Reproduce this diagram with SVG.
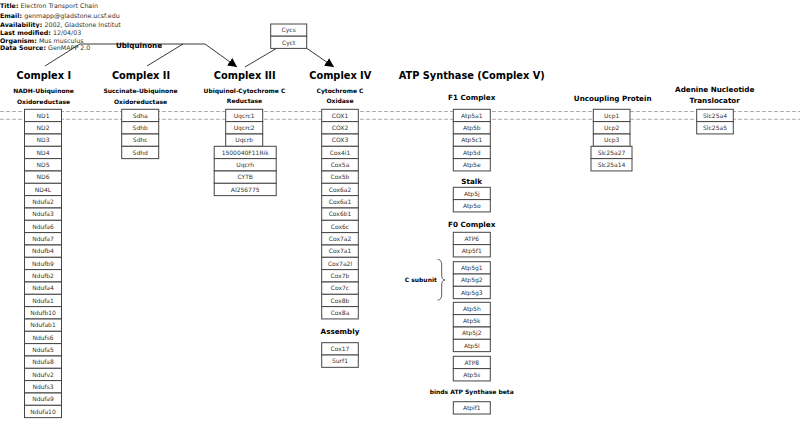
<svg xmlns="http://www.w3.org/2000/svg" width="800" height="427" viewBox="0 0 800 427">
<defs>
<style>
.box{fill:#fff;stroke:#444;stroke-width:1}
.bt{font-family:"DejaVu Sans",sans-serif;font-size:6px;fill:#333;text-anchor:middle}
.h1{font-family:"DejaVu Sans",sans-serif;font-size:9.8px;font-weight:bold;fill:#000;text-anchor:middle}
.h2{font-family:"DejaVu Sans",sans-serif;font-size:7.2px;font-weight:bold;fill:#000;text-anchor:middle}
.sub{font-family:"DejaVu Sans",sans-serif;font-size:6px;font-weight:bold;fill:#000;text-anchor:middle}
.il{font-family:"DejaVu Sans",sans-serif;font-size:6.3px;font-weight:bold;fill:#000}
.iv{font-family:"DejaVu Sans",sans-serif;font-size:6.3px;fill:#333;font-weight:normal}
.dash{stroke:#999;stroke-width:0.8;stroke-dasharray:4 2;fill:none}
.con{stroke:#222;stroke-width:0.9;fill:none}
</style>
<marker id="arr" viewBox="0 0 10 10" refX="10" refY="5" markerUnits="userSpaceOnUse" markerWidth="9" markerHeight="9" orient="auto">
<path d="M0,0 L10,5 L0,10 z" fill="#000"/>
</marker>
<clipPath id="clipAv"><rect x="0" y="18" width="121" height="10"/></clipPath>
</defs>
<rect width="800" height="427" fill="#fff"/>

<g id="info">
<text x="0" y="8.3" class="il">Title: <tspan class="iv">Electron Transport Chain</tspan></text>
<text x="0" y="17.5" class="il">Email: <tspan class="iv">genmapp@gladstone.ucsf.edu</tspan></text>
<text x="0" y="26.5" class="il" clip-path="url(#clipAv)">Availability: <tspan class="iv">2002, Gladstone Institute</tspan></text>
<text x="0" y="35" class="il">Last modified: <tspan class="iv">12/04/03</tspan></text>
<text x="0" y="43" class="il">Organism: <tspan class="iv">Mus musculus</tspan></text>
<text x="0" y="49.7" class="il">Data Source: <tspan class="iv">GenMAPP 2.0</tspan></text>
</g>

<g id="membrane">
<line x1="0" y1="111.5" x2="800" y2="111.5" class="dash"/>
<line x1="0" y1="119.3" x2="800" y2="119.3" class="dash"/>
</g>

<g id="connectors">
<line x1="45" y1="66" x2="80" y2="44" class="con"/>
<line x1="147" y1="66" x2="183" y2="44" class="con"/>
<polyline points="80,44 205,44 237,67" class="con" marker-end="url(#arr)"/>
<line x1="276.7" y1="48.3" x2="245" y2="67" class="con"/>
<line x1="306.7" y1="48.3" x2="334" y2="67" class="con" marker-end="url(#arr)"/>
</g>

<g id="ubiquinone"><text x="139" y="47.5" class="h2">Ubiquinone</text></g>

<g id="cytc">
<rect x="270.7" y="24" width="36" height="12.2" class="box"/><text x="288.7" y="32.3" class="bt">Cycs</text>
<rect x="270.7" y="36.2" width="36" height="12.2" class="box"/><text x="288.7" y="44.5" class="bt">Cyct</text>
</g>

<g id="complex1-label">
<text x="43.8" y="79" class="h1">Complex I</text>
<text x="43.5" y="93" class="sub">NADH-Ubiquinone</text>
<text x="43.5" y="103.8" class="sub">Oxidoreductase</text>
</g>
<g id="complex2-label">
<text x="141" y="79" class="h1">Complex II</text>
<text x="140.5" y="93" class="sub">Succinate-Ubiquinone</text>
<text x="140.5" y="103.8" class="sub">Oxidoreductase</text>
</g>
<g id="complex3-label">
<text x="244.7" y="79" class="h1">Complex III</text>
<text x="244.5" y="93" class="sub">Ubiquinol-Cytochrome C</text>
<text x="244.5" y="103.3" class="sub">Reductase</text>
</g>
<g id="complex4-label">
<text x="340.3" y="79" class="h1">Complex IV</text>
<text x="340" y="93" class="sub">Cytochrome C</text>
<text x="340" y="103.3" class="sub">Oxidase</text>
</g>
<g id="complex5-label">
<text x="471.7" y="79" class="h1">ATP Synthase (Complex V)</text>
<text x="471.7" y="99.5" class="h2">F1 Complex</text>
<text x="471.7" y="183.5" class="h2">Stalk</text>
<text x="471.7" y="226.5" class="h2">F0 Complex</text>
<text x="471.7" y="393.5" class="sub">binds ATP Synthase beta</text>
<text x="420.8" y="282" class="sub">C subunit</text>
<path d="M437.7,259.5 Q441.7,259.5 441.7,265 L441.7,275 Q441.7,280 445,280 Q441.7,280 441.7,285 L441.7,294.5 Q441.7,300 437.7,300" fill="none" stroke="#333" stroke-width="0.8"/>
</g>
<g id="ucp-label"><text x="612.7" y="101" class="h2">Uncoupling Protein</text></g>
<g id="ant-label">
<text x="714.7" y="91.5" class="h2">Adenine Nucleotide</text>
<text x="714.7" y="103" class="h2">Translocator</text>
</g>
<g id="assembly-label"><text x="340" y="333.5" class="h2">Assembly</text></g>

<g id="complex1">
<rect x="24.5" y="109.3" width="37" height="12.33" class="box"/><text x="43" y="117.6" class="bt">ND1</text>
<rect x="24.5" y="121.6" width="37" height="12.33" class="box"/><text x="43" y="129.9" class="bt">ND2</text>
<rect x="24.5" y="134" width="37" height="12.33" class="box"/><text x="43" y="142.3" class="bt">ND3</text>
<rect x="24.5" y="146.3" width="37" height="12.33" class="box"/><text x="43" y="154.6" class="bt">ND4</text>
<rect x="24.5" y="158.6" width="37" height="12.33" class="box"/><text x="43" y="166.9" class="bt">ND5</text>
<rect x="24.5" y="171" width="37" height="12.33" class="box"/><text x="43" y="179.3" class="bt">ND6</text>
<rect x="24.5" y="183.3" width="37" height="12.33" class="box"/><text x="43" y="191.6" class="bt">ND4L</text>
<rect x="24.5" y="195.6" width="37" height="12.33" class="box"/><text x="43" y="203.9" class="bt">Ndufa2</text>
<rect x="24.5" y="208" width="37" height="12.33" class="box"/><text x="43" y="216.3" class="bt">Ndufa3</text>
<rect x="24.5" y="220.3" width="37" height="12.33" class="box"/><text x="43" y="228.6" class="bt">Ndufa6</text>
<rect x="24.5" y="232.6" width="37" height="12.33" class="box"/><text x="43" y="240.9" class="bt">Ndufa7</text>
<rect x="24.5" y="245" width="37" height="12.33" class="box"/><text x="43" y="253.3" class="bt">Ndufb4</text>
<rect x="24.5" y="257.3" width="37" height="12.33" class="box"/><text x="43" y="265.6" class="bt">Ndufb9</text>
<rect x="24.5" y="269.6" width="37" height="12.33" class="box"/><text x="43" y="277.9" class="bt">Ndufb2</text>
<rect x="24.5" y="282" width="37" height="12.33" class="box"/><text x="43" y="290.3" class="bt">Ndufa4</text>
<rect x="24.5" y="294.3" width="37" height="12.33" class="box"/><text x="43" y="302.6" class="bt">Ndufa1</text>
<rect x="24.5" y="306.6" width="37" height="12.33" class="box"/><text x="43" y="314.9" class="bt">Ndufb10</text>
<rect x="24.5" y="319" width="37" height="12.33" class="box"/><text x="43" y="327.3" class="bt">Ndufab1</text>
<rect x="24.5" y="331.3" width="37" height="12.33" class="box"/><text x="43" y="339.6" class="bt">Ndufs6</text>
<rect x="24.5" y="343.6" width="37" height="12.33" class="box"/><text x="43" y="351.9" class="bt">Ndufa5</text>
<rect x="24.5" y="356" width="37" height="12.33" class="box"/><text x="43" y="364.3" class="bt">Ndufa8</text>
<rect x="24.5" y="368.3" width="37" height="12.33" class="box"/><text x="43" y="376.6" class="bt">Ndufv2</text>
<rect x="24.5" y="380.6" width="37" height="12.33" class="box"/><text x="43" y="388.9" class="bt">Ndufs3</text>
<rect x="24.5" y="393" width="37" height="12.33" class="box"/><text x="43" y="401.3" class="bt">Ndufa9</text>
<rect x="24.5" y="405.3" width="37" height="12.33" class="box"/><text x="43" y="413.6" class="bt">Ndufa10</text>
</g>

<g id="complex2">
<rect x="121.7" y="109.3" width="37" height="12.33" class="box"/><text x="140.2" y="117.6" class="bt">Sdha</text>
<rect x="121.7" y="121.6" width="37" height="12.33" class="box"/><text x="140.2" y="129.9" class="bt">Sdhb</text>
<rect x="121.7" y="134" width="37" height="12.33" class="box"/><text x="140.2" y="142.3" class="bt">Sdhc</text>
<rect x="121.7" y="146.3" width="37" height="12.33" class="box"/><text x="140.2" y="154.6" class="bt">Sdhd</text>
</g>

<g id="complex3">
<rect x="225.7" y="109.3" width="37" height="12.33" class="box"/><text x="244.2" y="117.6" class="bt">Uqcrc1</text>
<rect x="225.7" y="121.6" width="37" height="12.33" class="box"/><text x="244.2" y="129.9" class="bt">Uqcrc2</text>
<rect x="225.7" y="134" width="37" height="12.33" class="box"/><text x="244.2" y="142.3" class="bt">Uqcrb</text>
<rect x="214.2" y="146.3" width="62" height="12.33" class="box"/><text x="245.2" y="154.6" class="bt">1500040F11Rik</text>
<rect x="214.2" y="158.6" width="62" height="12.33" class="box"/><text x="245.2" y="166.9" class="bt">Uqcrh</text>
<rect x="214.2" y="171" width="62" height="12.33" class="box"/><text x="245.2" y="179.3" class="bt">CYTB</text>
<rect x="214.2" y="183.3" width="62" height="12.33" class="box"/><text x="245.2" y="191.6" class="bt">AI256775</text>
</g>

<g id="complex4">
<rect x="321.7" y="109.3" width="36.6" height="12.33" class="box"/><text x="340" y="117.6" class="bt">COX1</text>
<rect x="321.7" y="121.6" width="36.6" height="12.33" class="box"/><text x="340" y="129.9" class="bt">COX2</text>
<rect x="321.7" y="134" width="36.6" height="12.33" class="box"/><text x="340" y="142.3" class="bt">COX3</text>
<rect x="321.7" y="146.3" width="36.6" height="12.33" class="box"/><text x="340" y="154.6" class="bt">Cox4i1</text>
<rect x="321.7" y="158.6" width="36.6" height="12.33" class="box"/><text x="340" y="166.9" class="bt">Cox5a</text>
<rect x="321.7" y="171" width="36.6" height="12.33" class="box"/><text x="340" y="179.3" class="bt">Cox5b</text>
<rect x="321.7" y="183.3" width="36.6" height="12.33" class="box"/><text x="340" y="191.6" class="bt">Cox6a2</text>
<rect x="321.7" y="195.6" width="36.6" height="12.33" class="box"/><text x="340" y="203.9" class="bt">Cox6a1</text>
<rect x="321.7" y="208" width="36.6" height="12.33" class="box"/><text x="340" y="216.3" class="bt">Cox6b1</text>
<rect x="321.7" y="220.3" width="36.6" height="12.33" class="box"/><text x="340" y="228.6" class="bt">Cox6c</text>
<rect x="321.7" y="232.6" width="36.6" height="12.33" class="box"/><text x="340" y="240.9" class="bt">Cox7a2</text>
<rect x="321.7" y="245" width="36.6" height="12.33" class="box"/><text x="340" y="253.3" class="bt">Cox7a1</text>
<rect x="321.7" y="257.3" width="36.6" height="12.33" class="box"/><text x="340" y="265.6" class="bt">Cox7a2l</text>
<rect x="321.7" y="269.6" width="36.6" height="12.33" class="box"/><text x="340" y="277.9" class="bt">Cox7b</text>
<rect x="321.7" y="282" width="36.6" height="12.33" class="box"/><text x="340" y="290.3" class="bt">Cox7c</text>
<rect x="321.7" y="294.3" width="36.6" height="12.33" class="box"/><text x="340" y="302.6" class="bt">Cox8b</text>
<rect x="321.7" y="306.6" width="36.6" height="12.33" class="box"/><text x="340" y="314.9" class="bt">Cox8a</text>
</g>

<g id="assembly">
<rect x="321.7" y="342.7" width="36.6" height="12.33" class="box"/><text x="340" y="351" class="bt">Cox17</text>
<rect x="321.7" y="355" width="36.6" height="12.33" class="box"/><text x="340" y="363.3" class="bt">Surf1</text>
</g>

<g id="f1-complex">
<rect x="453.3" y="109.3" width="37" height="12.33" class="box"/><text x="471.8" y="117.6" class="bt">Atp5a1</text>
<rect x="453.3" y="121.6" width="37" height="12.33" class="box"/><text x="471.8" y="129.9" class="bt">Atp5b</text>
<rect x="453.3" y="134" width="37" height="12.33" class="box"/><text x="471.8" y="142.3" class="bt">Atp5c1</text>
<rect x="453.3" y="146.3" width="37" height="12.33" class="box"/><text x="471.8" y="154.6" class="bt">Atp5d</text>
<rect x="453.3" y="158.6" width="37" height="12.33" class="box"/><text x="471.8" y="166.9" class="bt">Atp5e</text>
</g>

<g id="stalk">
<rect x="453.3" y="187.3" width="37" height="12.33" class="box"/><text x="471.8" y="195.6" class="bt">Atp5j</text>
<rect x="453.3" y="199.6" width="37" height="12.33" class="box"/><text x="471.8" y="207.9" class="bt">Atp5o</text>
</g>

<g id="f0-complex">
<rect x="453.3" y="232.3" width="37" height="12.33" class="box"/><text x="471.8" y="240.6" class="bt">ATP6</text>
<rect x="453.3" y="244.6" width="37" height="12.33" class="box"/><text x="471.8" y="252.9" class="bt">Atp5f1</text>
</g>

<g id="c-subunit">
<rect x="453.3" y="261.7" width="37" height="12.33" class="box"/><text x="471.8" y="270" class="bt">Atp5g1</text>
<rect x="453.3" y="274" width="37" height="12.33" class="box"/><text x="471.8" y="282.3" class="bt">Atp5g2</text>
<rect x="453.3" y="286.3" width="37" height="12.33" class="box"/><text x="471.8" y="294.6" class="bt">Atp5g3</text>
</g>

<g id="f0-other">
<rect x="453.3" y="302.3" width="37" height="12.33" class="box"/><text x="471.8" y="310.6" class="bt">Atp5h</text>
<rect x="453.3" y="314.6" width="37" height="12.33" class="box"/><text x="471.8" y="322.9" class="bt">Atp5k</text>
<rect x="453.3" y="327" width="37" height="12.33" class="box"/><text x="471.8" y="335.3" class="bt">Atp5j2</text>
<rect x="453.3" y="339.3" width="37" height="12.33" class="box"/><text x="471.8" y="347.6" class="bt">Atp5l</text>
</g>

<g id="f0-atp8">
<rect x="453.3" y="356.3" width="37" height="12.33" class="box"/><text x="471.8" y="364.6" class="bt">ATP8</text>
<rect x="453.3" y="368.6" width="37" height="12.33" class="box"/><text x="471.8" y="376.9" class="bt">Atp5s</text>
</g>

<g id="atpif1">
<rect x="453.3" y="401.7" width="37" height="12.33" class="box"/><text x="471.8" y="410" class="bt">Atpif1</text>
</g>

<g id="ucp">
<rect x="593.3" y="109.3" width="36.7" height="12.33" class="box"/><text x="611.7" y="117.6" class="bt">Ucp1</text>
<rect x="593.3" y="121.6" width="36.7" height="12.33" class="box"/><text x="611.7" y="129.9" class="bt">Ucp2</text>
<rect x="593.3" y="134" width="36.7" height="12.33" class="box"/><text x="611.7" y="142.3" class="bt">Ucp3</text>
<rect x="591" y="146.3" width="41" height="12.33" class="box"/><text x="611.5" y="154.6" class="bt">Slc25a27</text>
<rect x="591" y="158.6" width="41" height="12.33" class="box"/><text x="611.5" y="166.9" class="bt">Slc25a14</text>
</g>

<g id="ant">
<rect x="696.7" y="109.3" width="36.6" height="12.33" class="box"/><text x="715" y="117.6" class="bt">Slc25a4</text>
<rect x="696.7" y="121.6" width="36.6" height="12.33" class="box"/><text x="715" y="129.9" class="bt">Slc25a5</text>
</g>
</svg>
